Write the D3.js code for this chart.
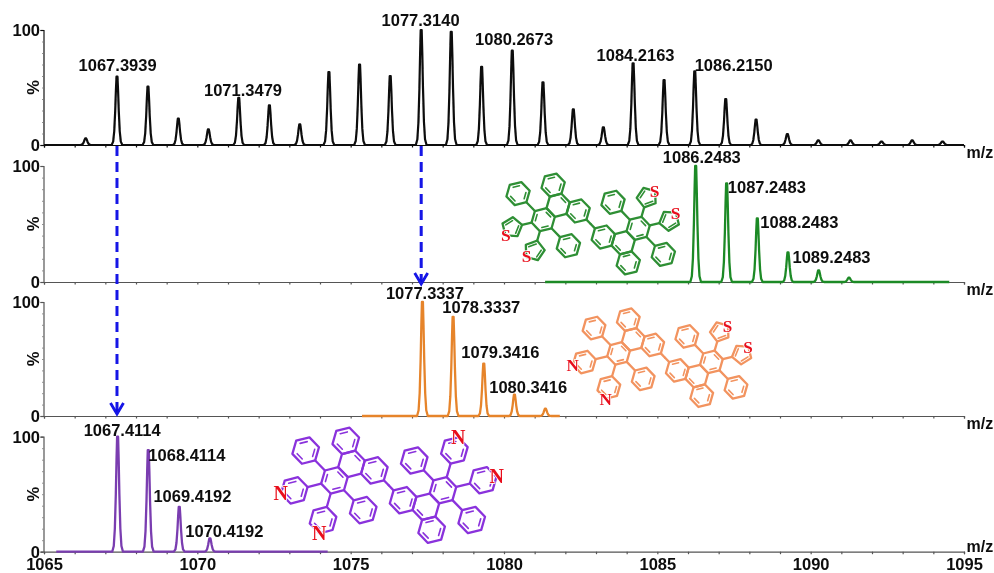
<!DOCTYPE html>
<html><head><meta charset="utf-8">
<script src="https://cdn.jsdelivr.net/npm/d3@7"></script>
<style>html,body{margin:0;padding:0;background:#fff}svg{display:block}svg{font-family:"Liberation Sans",Arial,sans-serif}</style>
</head><body><div id="chart"></div>
<script>
// ---- peak data (m/z, relative %) ----
const expMz = [1066.36,1067.38,1068.39,1069.38,1070.36,1071.35,1072.35,1073.34,1074.29,1075.29,1076.29,1077.30,1078.28,1079.27,1080.27,1081.27,1082.26,1083.24,1084.21,1085.22,1086.22,1087.23,1088.22,1089.24,1090.25,1091.30,1092.31,1093.31,1094.30];
const expPct = [5.8,59.4,50.7,23,13.6,41,34.5,18,63.5,70,60,100,98.5,68,82,54.5,31,15.4,71,56.5,64,40,22,9.5,4,4,3,4,3];
const greenMz = [1086.25,1087.26,1088.26,1089.26,1090.26,1091.25];
const greenPct = [100,85,54.8,25.6,10,3.7];
const orangeMz = [1077.34,1078.34,1079.34,1080.34,1081.35];
const orangePct = [100,87,46,18.7,6.4];
const purpleMz = [1067.40,1068.40,1069.41,1070.41];
const purplePct = [100,88.4,39,11.6];
// spectrum extents along m/z
const expRange = [1065,1095];
const greenRange = [1081.34,1094.52];
const orangeRange = [1075.37,1081.82];
const purpleRange = [1065.4,1074.25];
// peak labels: text, and where they sit in data units
const expText = ["1067.3939","1071.3479","1077.3140","1080.2673","1084.2163","1086.2150"];
const expLabelMz = [1067.40,1071.49,1077.28,1080.33,1084.29,1087.49];
const expLabelPct = [64.3,42.6,103.5,87,73,64.3];
const greenText = ["1086.2483","1087.2483","1088.2483","1089.2483"];
const greenLabelMz = [1086.45,1088.57,1089.63,1090.68];
const greenLabelPct = [102.8,76.5,46.3,16.1];
const orangeText = ["1077.3337","1078.3337","1079.3416","1080.3416"];
const orangeLabelMz = [1077.42,1079.26,1079.88,1080.79];
const orangeLabelPct = [102.6,90,50.6,20.4];
const purpleText = ["1067.4114","1068.4114","1069.4192","1070.4192"];
const purpleLabelMz = [1067.55,1069.66,1069.84,1070.88];
const purpleLabelPct = [100.9,79.1,43.5,12.5];
const xTickLabels = [1065,1070,1075,1080,1085,1090,1095];
// profile of one instrument peak: half-width in m/z at a fraction of the height
const peakHalfWidth = [0.175,0.125,0.09,0.058,0.035,0.016];
const peakFraction  = [0,0.05,0.2,0.5,0.8,1];

const W = 994, H = 573;
const svg = d3.select("#chart").append("svg").attr("width",W).attr("height",H).attr("viewBox",[0,0,W,H]);
const defs = svg.append("defs");
defs.append("filter").attr("id","soft").attr("x","-2%").attr("y","-2%").attr("width","104%").attr("height","104%")
  .append("feGaussianBlur").attr("stdDeviation",0.35);
const root = svg.append("g").attr("filter","url(#soft)");

const x = d3.scaleLinear().domain([1065,1095]).range([44,964]);
const axisGrey = "#555";
const ink = "#0d0d0d";

const panels = [
 {mz:expMz,pct:expPct,range:expRange,color:"#0a0a0a",sw:2.2,y0:145,y1:30,text:expText,lmz:expLabelMz,lpct:expLabelPct,mzLab:158},
 {mz:greenMz,pct:greenPct,range:greenRange,color:"#1f8a26",sw:2.3,y0:282,y1:166,text:greenText,lmz:greenLabelMz,lpct:greenLabelPct,mzLab:295},
 {mz:orangeMz,pct:orangePct,range:orangeRange,color:"#e6842c",sw:2.3,y0:416,y1:302,text:orangeText,lmz:orangeLabelMz,lpct:orangeLabelPct,mzLab:429},
 {mz:purpleMz,pct:purplePct,range:purpleRange,color:"#7a3db0",sw:2.3,y0:551.7,y1:436.7,text:purpleText,lmz:purpleLabelMz,lpct:purpleLabelPct,mzLab:552}
];

panels.forEach((p,i)=>{
  const y = d3.scaleLinear().domain([0,100]).range([p.y0,p.y1]);
  p.y = y;
  const g = root.append("g");
  // x axis
  const ax = d3.axisBottom(x).ticks(30).tickSize(2.5).tickFormat(i===3?(d=>xTickLabels.includes(d)?d:""):"");
  const ag = g.append("g").attr("transform",`translate(0,${p.y0})`).call(ax);
  ag.selectAll("path,line").attr("stroke",i===0?"#111":axisGrey).attr("stroke-width",1.2);
  ag.selectAll("text").attr("font-size",16.5).attr("font-weight",700).attr("fill",ink).attr("dy",0).attr("y",18.3);
  // y axis
  const ay = d3.axisLeft(y).tickValues([0,100]).tickSize(3).tickPadding(0.5).tickFormat(d3.format("d"));
  const yg = g.append("g").attr("transform","translate(43.5,0)").call(ay);
  yg.selectAll("path,line").attr("stroke",i===0?"#111":axisGrey).attr("stroke-width",1.2);
  yg.selectAll("text").attr("font-size",16.5).attr("font-weight",700).attr("fill",ink).attr("dy","0.36em");
  const minor = d3.axisLeft(y).tickValues(d3.range(10,100,10)).tickSize(1.5).tickFormat("");
  const mg = g.append("g").attr("transform","translate(43.5,0)").call(minor);
  mg.select("path").remove();
  mg.selectAll("line").attr("stroke","#777").attr("stroke-width",0.8);
  // % label
  g.append("text").attr("transform",`translate(39,${y(50)}) rotate(-90)`).attr("text-anchor","middle")
    .attr("font-size",16.5).attr("fill",ink).attr("font-weight",700).text("%");
  // m/z
  g.append("text").attr("x",966.5).attr("y",p.mzLab).attr("font-size",16).attr("font-weight",700).attr("fill",ink).text("m/z");
  // spectrum
  const pts = [{m:p.range[0],v:0}];
  p.mz.forEach((c,k)=>{
    const h = p.pct[k];
    peakHalfWidth.forEach((w,j)=>pts.push({m:c-w,v:h*peakFraction[j]}));
    for(let j=peakHalfWidth.length-1;j>=0;j--) pts.push({m:c+peakHalfWidth[j],v:h*peakFraction[j]});
  });
  pts.push({m:p.range[1],v:0});
  const line = d3.line().x(d=>x(d.m)).y(d=>y(d.v)).curve(d3.curveLinear);
  g.append("path").datum(pts).attr("d",line).attr("fill","none").attr("stroke",p.color)
    .attr("stroke-width",p.sw).attr("stroke-linejoin","round");
  // labels
  g.selectAll(".pk").data(p.text).join("text").attr("class","pk")
    .attr("x",(d,k)=>x(p.lmz[k])).attr("y",(d,k)=>y(p.lpct[k]))
    .attr("text-anchor","middle").attr("font-size",16.5).attr("font-weight",700).attr("fill",ink).text(d=>d);
});

// ---- molecular structures ----
const deg = Math.PI/180;
const pol = (p,a,d)=>[p[0]+d*Math.cos(a*deg),p[1]+d*Math.sin(a*deg)];
function molecule(cx,cy,s,color,leftAtom,rightAtom){
  const r=13.7*s,b=14*s,fused=r*Math.sqrt(3),g=root.append("g");
  const bw=2.3;
  const seg=(a,c,sw)=>g.append("line").attr("x1",a[0]).attr("y1",a[1]).attr("x2",c[0]).attr("y2",c[1])
      .attr("stroke",color).attr("stroke-width",sw||bw).attr("stroke-linecap","round");
  const ring=(c,phase,inner)=>{
    const v=d3.range(6).map(k=>pol(c,46+60*k,r));
    g.append("polygon").attr("points",v.map(q=>q.join(",")).join(" ")).attr("fill","none")
      .attr("stroke",color).attr("stroke-width",bw).attr("stroke-linejoin","round");
    (inner||[0,2,4]).forEach(k=>{
      const a=v[(k+phase)%6],c2=v[(k+phase+1)%6];
      const ai=[c[0]+(a[0]-c[0])*.7,c[1]+(a[1]-c[1])*.7],ci=[c[0]+(c2[0]-c[0])*.7,c[1]+(c2[1]-c[1])*.7];
      const m=t=>[ai[0]+(ci[0]-ai[0])*t,ai[1]+(ci[1]-ai[1])*t];
      seg(m(.12),m(.88),1.6);
    });
  };
  const label=(t,p)=>g.append("text").attr("x",p[0]).attr("y",p[1]).attr("dy","0.33em").attr("text-anchor","middle")
      .style("font-family","'Liberation Serif',serif").attr("font-weight",700).attr("font-size",20*s)
      .attr("fill","#e8101c").attr("stroke","#fff").attr("stroke-width",1.5).attr("paint-order","stroke").text(t);
  const labels=[];
  const half=(sign,atom)=>{
    const o=a=>sign>0?a:a+180;
    const R1=pol([cx,cy],o(226),r+b/2),R2=pol(R1,o(196),fused),R3=pol(R2,o(256),fused),R4=pol(R2,o(136),fused);
    ring(R1,(sign+2)%2);
    ring(R2,0,[sign>0?4:1]);
    ring(R3,(sign+2)%2);
    ring(R4,(sign+3)%2);
    seg(pol(R1,o(46),r),[cx,cy]);
    [[226,"ph"],[46,"ph"],[166,atom,-36],[106,atom,36]].forEach(([a,kind,sA])=>{
      const d=o(a),start=pol(R4,d,r);
      if(kind==="S"){
        const rp=r*.86,c=pol(R4,d,r+b*.8+rp);
        seg(start,pol(start,d,b*.8));
        const v=d3.range(5).map(k=>pol(c,d+180+72*k,rp));
        g.append("polygon").attr("points",v.map(q=>q.join(",")).join(" ")).attr("fill","none")
          .attr("stroke",color).attr("stroke-width",bw).attr("stroke-linejoin","round");
        const sIdx = sA>0?3:2;
        [[sIdx+1,sIdx+2],[sIdx+3,sIdx+4]].forEach(([m,n])=>{
          const A=v[m%5],B=v[n%5],f=.66;
          const ai=[c[0]+(A[0]-c[0])*f,c[1]+(A[1]-c[1])*f],bi=[c[0]+(B[0]-c[0])*f,c[1]+(B[1]-c[1])*f];
          seg(ai,bi,1.6);
        });
        labels.push(["S",pol(c,d+sA,rp*.95)]);
      } else {
        const c=pol(R4,d,2*r+b);
        seg(start,pol(start,d,b));
        ring(c,1);
        if(kind==="N") labels.push(["N",pol(c,d,r*1.02)]);
      }
    });
  };
  half(1,leftAtom); half(-1,rightAtom);
  labels.forEach(l=>label(l[0],l[1]));
}
molecule(590.7,224,0.875,"#2f8f34","S","S");
molecule(665,357.7,0.855,"#f2935f","N","S");
molecule(388.7,485.3,1,"#8a32dc","N","N");

// ---- dashed blue arrows linking experiment peaks to simulations ----
const blue="#1212e6";
[[expMz[1],145,415],[expMz[11],145,285]].forEach(([m,y1,y2])=>{
  const px=x(m);
  root.append("line").attr("x1",px).attr("x2",px).attr("y1",y1+1).attr("y2",y2-2)
    .attr("stroke",blue).attr("stroke-width",3).attr("stroke-dasharray","10 6");
  root.append("path").attr("d",d3.line()([[px-6.5,y2-12],[px,y2-1],[px+6.5,y2-12]]))
    .attr("fill","none").attr("stroke",blue).attr("stroke-width",2.8);
});
</script></body></html>
